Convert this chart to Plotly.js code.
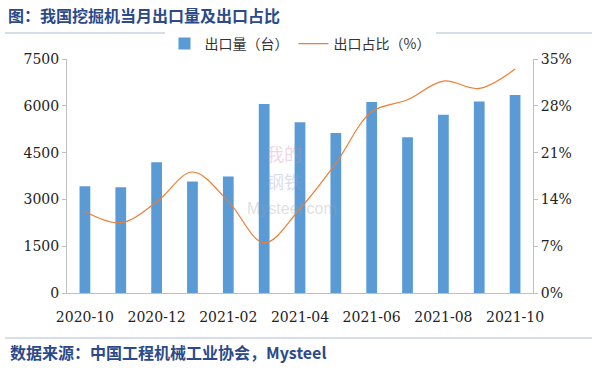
<!DOCTYPE html>
<html>
<head>
<meta charset="utf-8">
<script src="https://cdn.plot.ly/plotly-3.0.1.min.js"></script>
<style>html,body{margin:0;padding:0;background:#fff;}#chart{width:600px;height:368px;}</style>
</head>
<body>
<div id="chart"></div>
<script>
const months = ['2020-10','2020-11','2020-12','2021-01','2021-02','2021-03','2021-04','2021-05','2021-06','2021-07','2021-08','2021-09','2021-10'];
const exportVolume = [3420, 3390, 4190, 3570, 3730, 6060, 5470, 5130, 6120, 4990, 5710, 6140, 6350];
const exportShare = [12.2, 10.5, 13.6, 18.1, 13.7, 7.5, 12.6, 19.4, 27.1, 28.9, 31.7, 30.6, 33.5];
const leftTicks = [0, 1500, 3000, 4500, 6000, 7500];
const rightTicks = [0, 7, 14, 21, 28, 35];
const rightTickText = rightTicks.map(v => v + '%');
const shownMonths = months.filter((m, i) => i % 2 === 0);

const cjk = 'Noto Sans CJK SC';
const serif = 'DejaVu Serif';

const traces = [
  {
    type: 'bar', name: '出口量（台）', x: months, y: exportVolume,
    marker: {color: '#5B9BD5'}, width: 0.3, yaxis: 'y'
  },
  {
    type: 'scatter', mode: 'lines', name: '出口占比（%）', x: months, y: exportShare,
    line: {color: '#ED7D31', width: 1.2, shape: 'spline', smoothing: 1}, yaxis: 'y2'
  }
];

const L = 67, R = 533, T = 59, B = 293;
const px = v => (v - L) / (R - L);
const py = v => (B - v) / (B - T);

const tf = {family: serif, size: 14, color: '#222'};

const layout = {
  width: 600, height: 368,
  margin: {l: L, r: 600 - R, t: T, b: 368 - B},
  paper_bgcolor: '#fff', plot_bgcolor: '#fff',
  font: {family: serif, size: 14, color: '#222'},
  showlegend: true,
  legend: {
    orientation: 'h', x: 0.5, xanchor: 'center', y: py(44), yanchor: 'middle',
    font: {family: cjk, size: 14, color: '#333'}, itemwidth: 30, traceorder: 'normal'
  },
  title: {
    text: '<b>图：我国挖掘机当月出口量及出口占比</b>',
    x: 8 / 600, xanchor: 'left', xref: 'container',
    y: 1 - 16 / 368, yanchor: 'middle', yref: 'container',
    font: {family: cjk, size: 16, color: '#2A4A8A'}
  },
  xaxis: {
    type: 'category', tickmode: 'array', tickvals: shownMonths, ticktext: shownMonths,
    showline: true, linecolor: '#BFBFBF', linewidth: 1, showgrid: false,
    ticks: 'outside', ticklen: 11, tickcolor: 'rgba(0,0,0,0)',
    tickfont: tf, zeroline: false
  },
  yaxis: {
    range: [0, 7500], tickmode: 'array', tickvals: leftTicks,
    showline: true, linecolor: '#BFBFBF', linewidth: 1, showgrid: false,
    ticks: 'outside', ticklen: 4, tickcolor: '#BFBFBF',
    tickfont: tf, zeroline: false
  },
  yaxis2: {
    overlaying: 'y', side: 'right', range: [0, 35], tickmode: 'array',
    tickvals: rightTicks, ticktext: rightTickText,
    showline: true, linecolor: '#BFBFBF', linewidth: 1, showgrid: false,
    ticks: 'outside', ticklen: 4, tickcolor: '#BFBFBF',
    tickfont: tf, zeroline: false
  },
  shapes: [
    {type: 'line', xref: 'paper', yref: 'paper', x0: px(5), x1: px(592), y0: py(33), y1: py(33),
     line: {color: '#C9D3E3', width: 1.5}},
    {type: 'line', xref: 'paper', yref: 'paper', x0: px(5), x1: px(592), y0: py(338), y1: py(338),
     line: {color: '#C9D3E3', width: 1.5}}
  ],
  annotations: [
    {text: '<b>数据来源：中国工程机械工业协会，Mysteel</b>', xref: 'paper', yref: 'paper',
     x: px(8), y: py(352), xanchor: 'left', yanchor: 'middle', showarrow: false,
     font: {family: cjk, size: 16, color: '#2A4A8A'}},
    {text: '我的', xref: 'paper', yref: 'paper', x: px(284), y: py(153), xanchor: 'center', yanchor: 'middle',
     showarrow: false, font: {family: cjk, size: 18, color: 'rgba(200,140,170,0.35)'}},
    {text: '钢铁', xref: 'paper', yref: 'paper', x: px(284), y: py(181), xanchor: 'center', yanchor: 'middle',
     showarrow: false, font: {family: cjk, size: 18, color: 'rgba(150,160,200,0.35)'}},
    {text: 'Mysteel.com', xref: 'paper', yref: 'paper', x: px(292), y: py(208), xanchor: 'center', yanchor: 'middle',
     showarrow: false, font: {family: 'Liberation Sans', size: 16, color: 'rgba(160,160,160,0.35)'}}
  ]
};

Plotly.newPlot('chart', traces, layout, {displayModeBar: false, staticPlot: true});
</script>
</body>
</html>
